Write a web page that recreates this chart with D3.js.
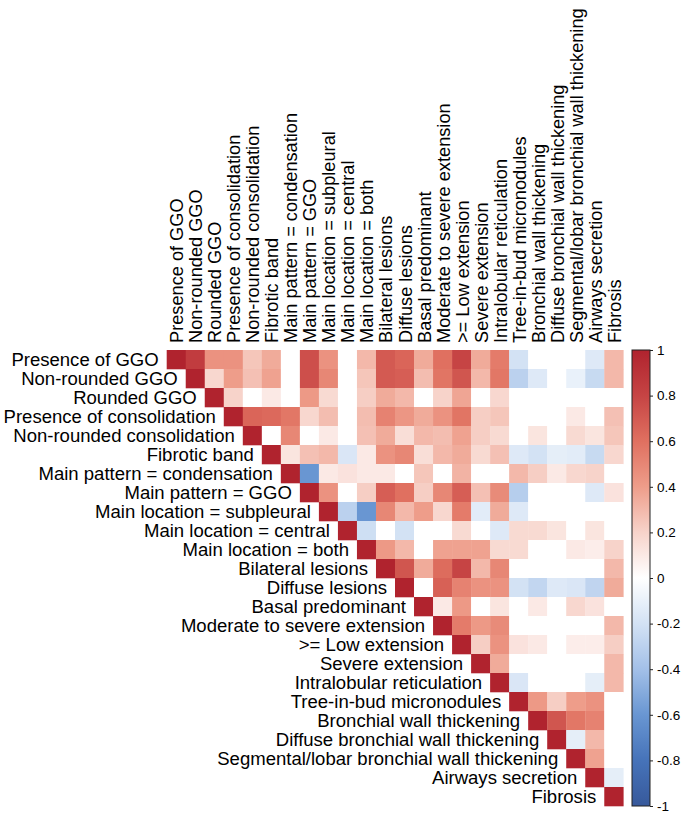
<!DOCTYPE html>
<html>
<head>
<meta charset="utf-8">
<script src="https://cdn.jsdelivr.net/npm/d3@7"></script>
<style>
html,body{margin:0;padding:0;background:#fff;}
svg{display:block;font-family:"Liberation Sans",Arial,Helvetica,sans-serif;}
</style>
</head>
<body>
<svg id="chart" width="685" height="815"></svg>
<script>
const labels = [
  "Presence of GGO","Non-rounded GGO","Rounded GGO","Presence of consolidation",
  "Non-rounded consolidation","Fibrotic band","Main pattern = condensation",
  "Main pattern = GGO","Main location = subpleural","Main location = central",
  "Main location = both","Bilateral lesions","Diffuse lesions","Basal predominant",
  "Moderate to severe extension",">= Low extension","Severe extension",
  "Intralobular reticulation","Tree-in-bud micronodules","Bronchial wall thickening",
  "Diffuse bronchial wall thickening","Segmental/lobar bronchial wall thickening",
  "Airways secretion","Fibrosis"
];

// upper triangle, row i lists correlations with columns i+1 .. 23
const upperRows = [
  [0.85,0.45,0.45,0.25,0.35,0,0.75,0.45,0,0.3,0.7,0.65,0.35,0.6,0.8,0.35,0.55,-0.2,0,0,0,-0.15,0.3],
  [0.18,0.4,0.27,0.38,0,0.75,0.5,0,0.25,0.7,0.68,0.28,0.58,0.72,0.3,0.57,-0.3,-0.15,0,-0.1,-0.25,0.3],
  [0.2,0,0.1,0,0.42,0.17,0,0.22,0.35,0.3,0,0.2,0.37,0,0.18,0,0,0,0,0,0],
  [0.65,0.63,0.57,0.18,0.28,0,0.28,0.52,0.43,0.35,0.45,0.58,0.22,0.25,0,0,0,0.1,0,0.27],
  [0,0.5,0,0.1,0,0.27,0.35,0.15,0.3,0.28,0.38,0.22,0.17,0,0.12,0,0.17,0.12,0.25],
  [0.12,0.27,0.3,-0.17,0.1,0.45,0.5,0.15,0.3,0.35,0.17,0.27,-0.15,-0.2,-0.12,-0.13,-0.25,0.18],
  [-0.6,0.1,0.13,0.1,0.1,0,0.25,0,0.32,0,0,0.3,0.22,0.1,0.18,0.2,0],
  [0.45,0,0.22,0.68,0.6,0.22,0.5,0.68,0.27,0.48,-0.32,0,0,0,-0.15,0.13],
  [-0.3,-0.6,0.5,0.3,0.4,0.18,0.55,-0.13,0.35,-0.15,0,0,0,0,0],
  [-0.22,0,-0.2,0,0,0.17,0,-0.15,0.17,0.17,0.12,0,0.12,0],
  [0.42,0.3,0,0.38,0.38,0.38,0.17,0.17,0,0,0.1,0.08,0.2],
  [0.72,0.35,0.62,0.8,0.3,0.5,0,0,0,0,0,0.3],
  [0,0.67,0.52,0.45,0.45,-0.2,-0.27,-0.15,-0.17,-0.28,0.35],
  [0.1,0.42,0,0.12,0,0.1,0,0.18,0.13,0],
  [0.55,0.42,0.48,0,0,0,0,0,0.3],
  [0.22,0.45,0.13,0.1,0,0.08,0.08,0.22],
  [0.35,0,0,0,0,0,0.3],
  [-0.17,0,0,0,-0.12,0.3],
  [0.42,0.22,0.4,0.45,0],
  [0.72,0.57,0.52,0],
  [-0.12,0.3,0],
  [0.38,0],
  [-0.12],
  []
];

const colorStops = [-1,-0.8,-0.6,-0.4,-0.2,0,0.2,0.4,0.6,0.8,1];
const colorValues = ["#37599B","#4673B9","#6996D2","#A3C0E8","#D3E2F4","#FFFFFF",
                     "#F7D3CA","#EE9D8A","#E07060","#C64444","#B0232E"];
const barTicks = [1,0.8,0.6,0.4,0.2,0,-0.2,-0.4,-0.6,-0.8,-1];

const color = d3.scaleLinear().domain(colorStops).range(colorValues).interpolate(d3.interpolateRgb);

const cells = [];
labels.forEach((rl, i) => {
  cells.push({row: rl, col: rl, v: 1});
  upperRows[i].forEach((v, k) => cells.push({row: rl, col: labels[i + 1 + k], v}));
});

const svg = d3.select("#chart");
const x = d3.scaleBand().domain(labels).range([166.7, 623.3]);
const y = d3.scaleBand().domain(labels).range([350, 806]);

svg.append("g").selectAll("rect").data(cells).join("rect")
  .attr("x", d => x(d.col)).attr("y", d => y(d.row))
  .attr("width", x.bandwidth() + 0.3).attr("height", y.bandwidth() + 0.3)
  .attr("fill", d => color(d.v));

// row labels (ending at diagonal)
svg.append("g").selectAll("text").data(labels).join("text")
  .attr("transform", d => `translate(${x(d) - 8},${y(d) + y.bandwidth()/2 + 6}) scale(1.06,1)`)
  .attr("text-anchor", "end")
  .attr("font-size", 17.5)
  .attr("fill", "#000")
  .text(d => d);

// column labels (top, vertical)
svg.append("g").selectAll("text").data(labels).join("text")
  .attr("transform", d => `translate(${x(d) + x.bandwidth()/2 + 7},343) rotate(-90)`)
  .attr("text-anchor", "start")
  .attr("font-size", 18.2)
  .attr("fill", "#000")
  .text(d => d);

// colour bar
const cb = d3.scaleLinear().domain([-1, 1]).range([806, 350]);
const defs = svg.append("defs");
const grad = defs.append("linearGradient").attr("id", "cbgrad")
  .attr("x1", 0).attr("y1", 1).attr("x2", 0).attr("y2", 0);
grad.selectAll("stop").data(colorStops).join("stop")
  .attr("offset", d => (d + 1) / 2)
  .attr("stop-color", d => color(d));

const barX = 632, barW = 18;
svg.append("rect")
  .attr("x", barX).attr("y", cb(1)).attr("width", barW).attr("height", cb(-1) - cb(1))
  .attr("fill", "url(#cbgrad)").attr("stroke", "#222").attr("stroke-width", 1);

const axis = d3.axisRight(cb).tickValues(barTicks).tickSize(3).tickPadding(4)
  .tickFormat(d => String(d));
const ag = svg.append("g").attr("transform", `translate(${barX + barW},0)`).call(axis);
ag.select(".domain").remove();
ag.selectAll(".tick line").attr("stroke", "#222");
ag.selectAll(".tick text").attr("font-size", 13.5).attr("fill", "#000")
  .attr("font-family", "Liberation Sans, Arial, sans-serif");
</script>
</body>
</html>
